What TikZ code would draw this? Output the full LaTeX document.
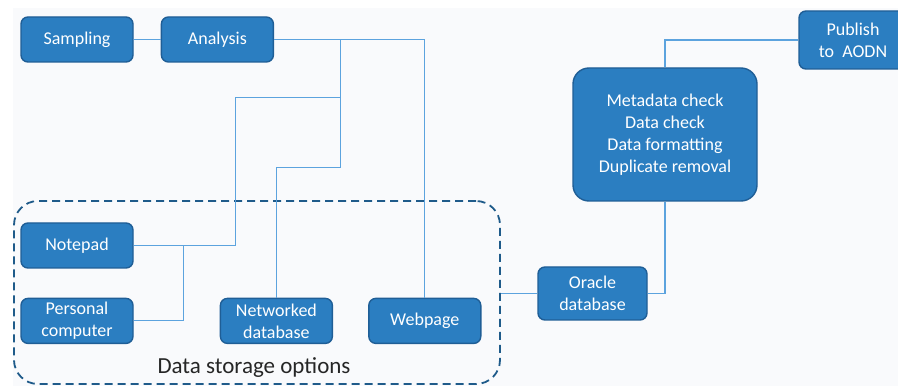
\documentclass[tikz,border=0pt]{standalone}
\usepackage{fontspec}
\setmainfont{Carlito}
\usepackage{tikz}
\usetikzlibrary{arrows.meta,positioning,calc,backgrounds}
\definecolor{flowBox}{HTML}{2B7EC1}
\definecolor{flowEdge}{HTML}{1F5E96}
\definecolor{flowLine}{HTML}{5CA3DE}
\definecolor{flowDash}{HTML}{1F5B8A}
\definecolor{flowPaper}{HTML}{F9FAFC}
\tikzset{
    stage/.style={draw=flowEdge, line width=1.4pt, rounded corners=7pt, align=center, fill=flowBox, text=white, font=\fontsize{18}{22}\selectfont, minimum width=112pt, minimum height=45pt, inner sep=2pt},
    link/.style={draw=flowLine, line width=1.2pt},
    storage/.style={draw=flowDash, line width=1.8pt, dash pattern=on 8pt off 5pt, rounded corners=24pt, minimum width=486pt, minimum height=183pt}
}

\begin{document}
\begin{tikzpicture}[x=1pt, y=1pt, node distance=29pt and 27pt]
\useasboundingbox (0,0) rectangle (898,386);
\fill[white] (0,0) rectangle (898,386);
\fill[flowPaper] (13,0) rectangle (898,378);
% collection
\node[stage] (sampling) at (77,346.5) {Sampling};
\node[stage, right=of sampling] (analysis) {Analysis};
% storage options
\node[storage] (store) at (257,93.5) {};
\node[stage] (notepad) at (77,140.5) {Notepad};
\node[stage, below=of notepad] (pc) {Personal\\computer};
\node[stage, right=86pt of pc] (netdb) {Networked\\database};
\node[stage, right=35pt of netdb] (webpage) {Webpage};
\node[font=\fontsize{23}{27}\selectfont, text=black!85] (storelabel) at (254,18) {Data storage options};
% processing
\node[stage, minimum width=109pt, minimum height=53pt] (oracle) at (592.5,92.5) {Oracle\\database};
\node[stage, minimum width=184pt, minimum height=133pt, rounded corners=16pt] (check) at (665,251.5) {Metadata check\\Data check\\Data formatting\\Duplicate removal};
\node[stage, minimum width=108pt, minimum height=58pt] (publish) at (853,346) {Publish\\to\ \ AODN};
% connectors
\coordinate (bus) at ($(analysis.east)+(66pt,0)$);
\coordinate (npjoin) at ($(notepad.east)+(102pt,0)$);
\coordinate (pcjoin) at ($(notepad.east)+(50pt,0)$);
\draw[link] (sampling.east) -- (analysis.west);
\draw[link] (analysis.east) -| (webpage.north);
\draw[link] (bus) -- ++(0,-128pt) -| (netdb.north);
\draw[link] (bus) ++(0,-58pt) -| (npjoin) -- (notepad.east);
\draw[link] (pc.east) -| (pcjoin);
\draw[link] (store.east |- oracle.west) -- (oracle.west);
\draw[link] (oracle.east) -| (check.south);
\draw[link] (check.north) |- (publish.west);
\end{tikzpicture}
\end{document}
